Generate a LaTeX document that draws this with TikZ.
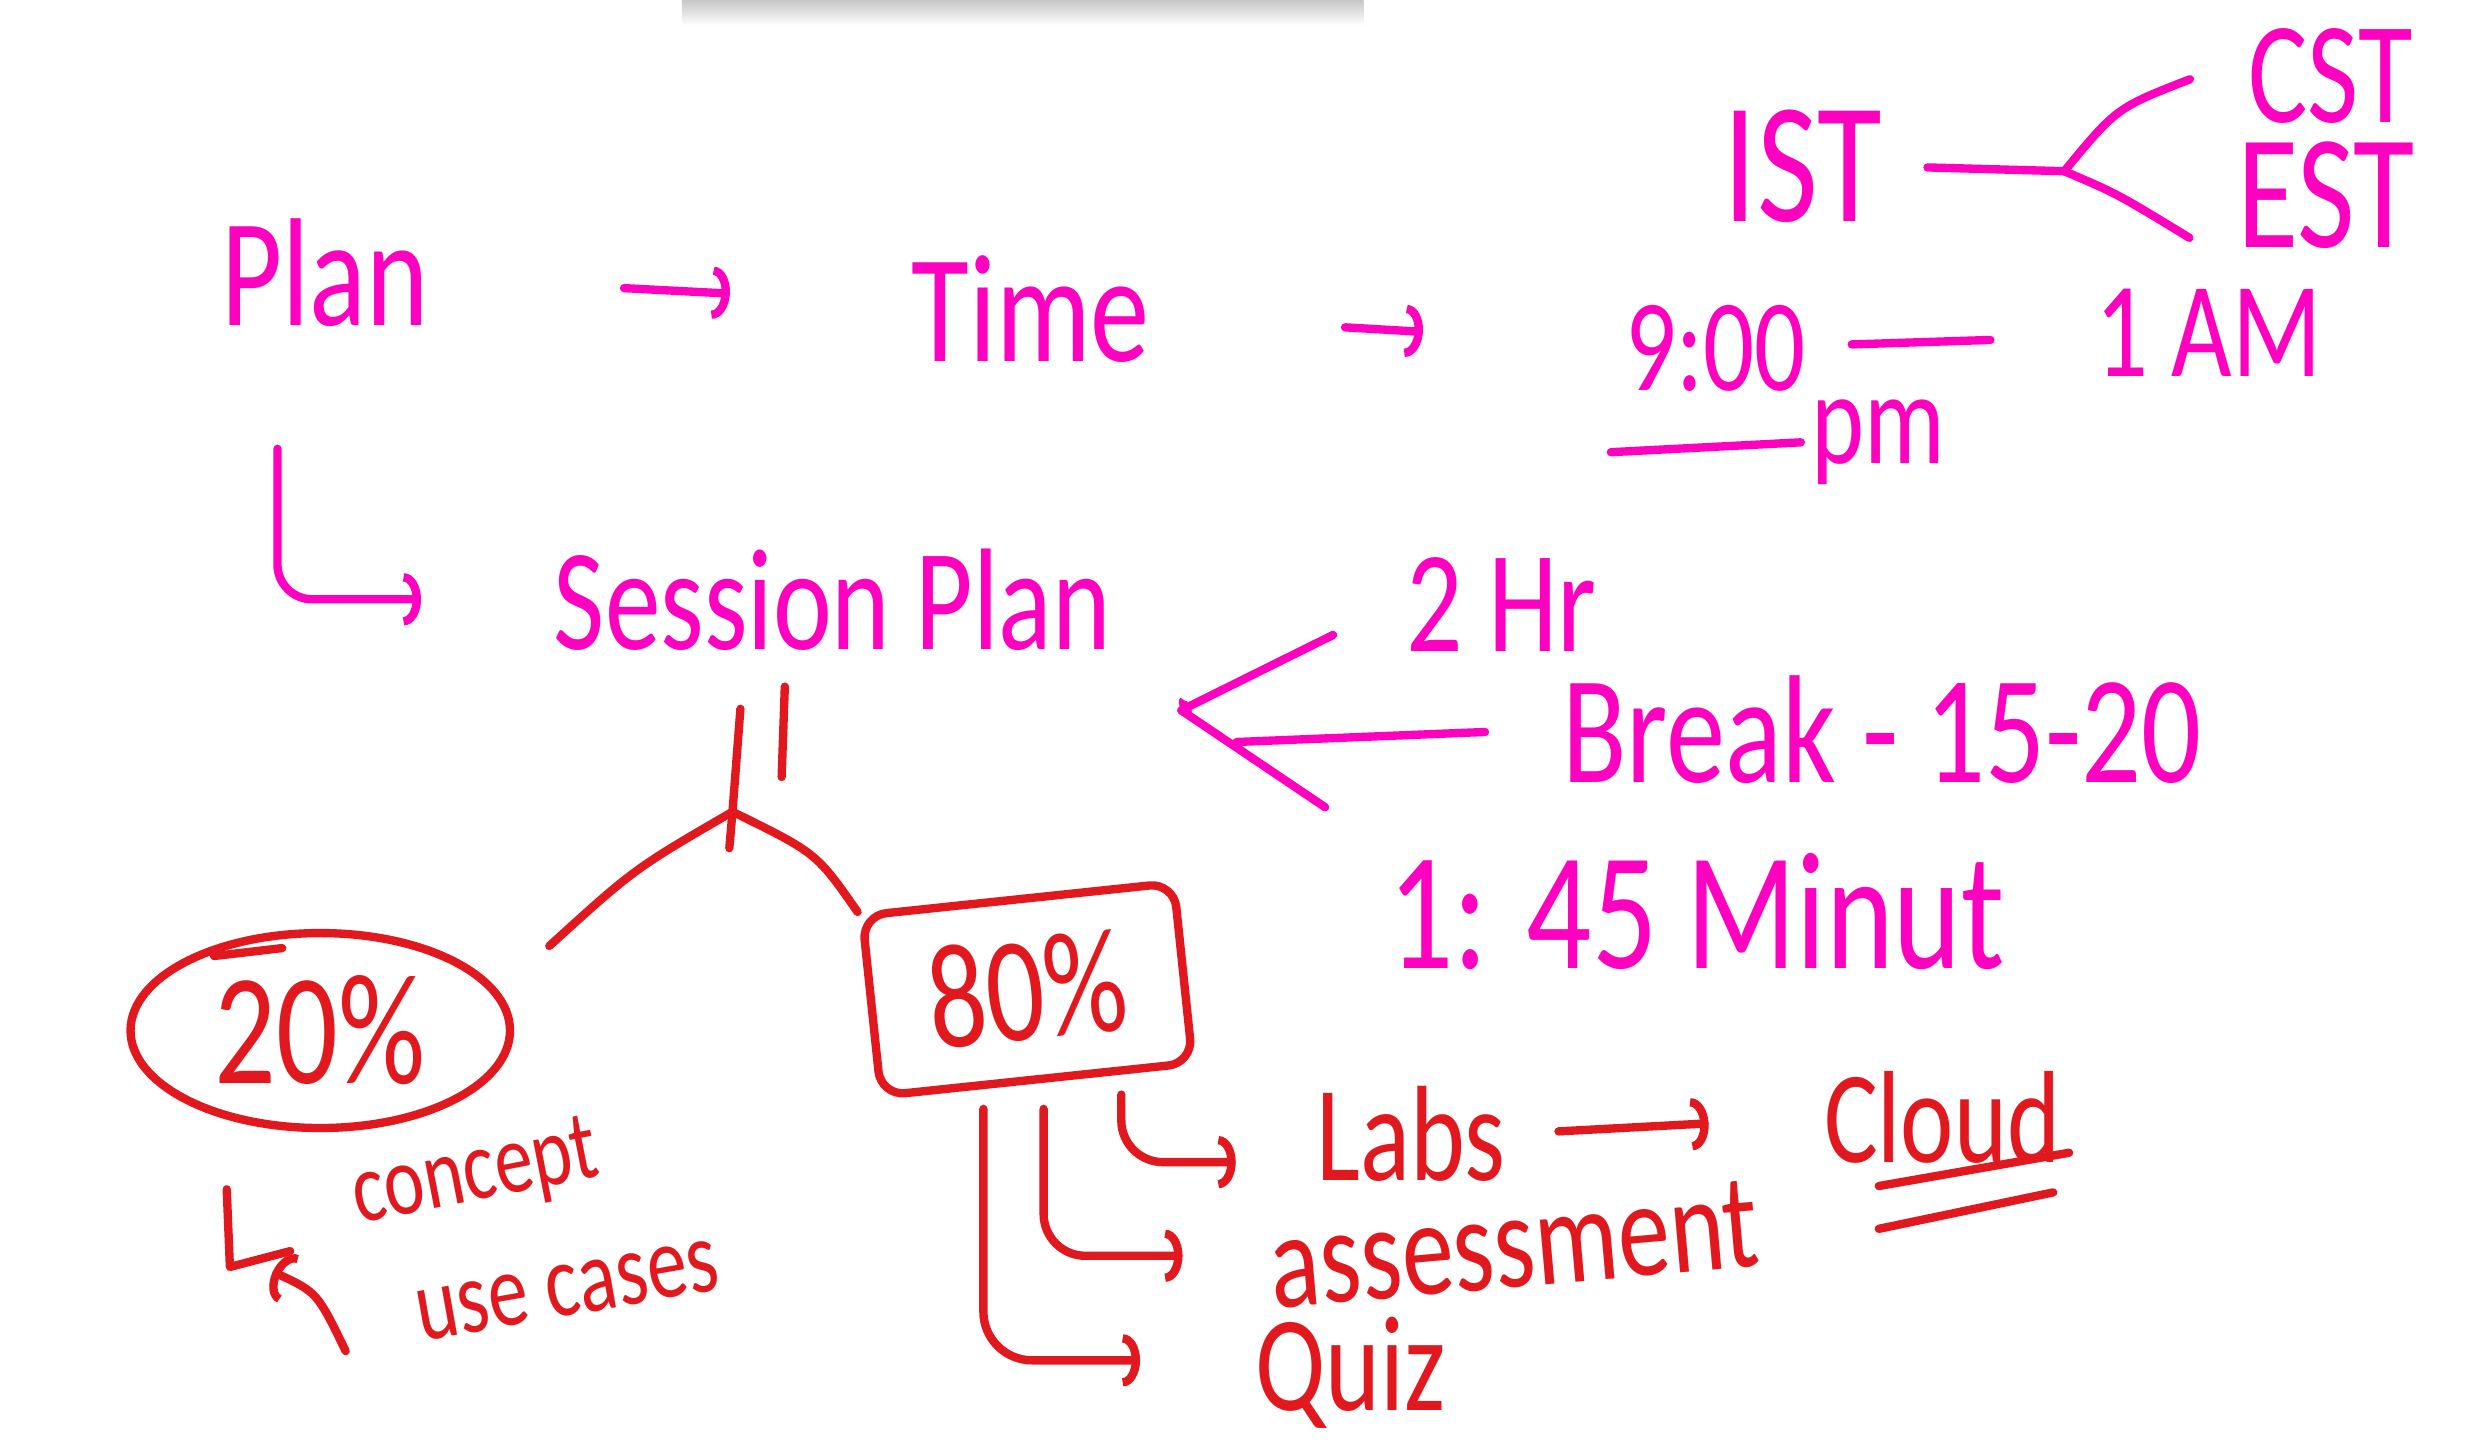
\documentclass[tikz,border=0pt]{standalone}
\usepackage{fontspec}
\setmainfont{Carlito}
\usepackage{graphicx}
\usetikzlibrary{arrows.meta,shapes.geometric}
\newcommand{\hw}[1]{\scalebox{1}[1.3]{#1}}

\begin{document}
\begin{tikzpicture}[x=0.016cm, y=-0.016cm,
    pen/.style={line width=2.4pt, line cap=round, line join=round},
    arr/.style={pen, -{Arc Barb[length=5pt, width=15pt]}},
    mtxt/.style={text=inkM, inner sep=3pt, font={\fontsize{#1}{#1}\selectfont}},
    rtxt/.style={text=inkR, inner sep=3pt, font={\fontsize{#1}{#1}\selectfont}}]
    \definecolor{inkM}{RGB}{255,0,192}
    \definecolor{inkR}{RGB}{225,25,30}

    \useasboundingbox (0,0) rectangle (1568,917);
    % shadow of the toolbar
    \shade[top color=black!22, bottom color=white] (430,0) rectangle (860,16);

    % magenta part: plan and time
    \node[mtxt=34] (plan)    at (205,172)  {\hw{Plan}};
    \node[mtxt=34] (time)    at (650,195)  {\hw{Time}};
    \node[mtxt=38] (ist)     at (1137,105) {\hw{IST}};
    \node[mtxt=32] (cst)     at (1470,48)  {\hw{CST}};
    \node[mtxt=36] (est)     at (1467,123) {\hw{EST}};
    \node[mtxt=29] (nine)    at (1082,220) {\hw{9:00}};
    \node[mtxt=30] (oneam)   at (1393,210) {\hw{1 AM}};
    \node[mtxt=29] (pm)      at (1185,279) {\hw{pm}};
    \node[mtxt=32] (session) at (525,378)  {\hw{Session Plan}};
    \node[mtxt=32] (hr2)     at (947,381)  {\hw{2 Hr}};
    \node[mtxt=34] (brk)     at (1187,460) {\hw{Break - 15-20}};
    \node[mtxt=37] (mins)    at (1070,575) {\hw{1: 45 Minut}};

    \draw[arr, inkM, shorten <=53pt, shorten >=49pt] (plan) -- (time);
    \draw[arr, inkM, shorten <=53pt, shorten >=55pt] (time) -- (nine);
    \draw[arr, inkM, rounded corners=10pt, shorten >=35pt] ([shift={(-30,70)}]plan.south) |- (session.west);

    \coordinate (fork) at (1302,108);
    \draw[pen, inkM, shorten <=10pt] (ist.east) -- (fork);
    \draw[pen, inkM] (fork) .. controls (1335,68) .. ([shift={(-30,2)}]cst.west);
    \draw[pen, inkM] (fork) .. controls (1335,122) .. ([shift={(-23,27)}]est.west);
    \draw[pen, inkM, shorten <=10pt, shorten >=27pt] (nine) -- (oneam);
    \draw[pen, inkM] ([shift={(-2,31)}]nine.south west) -- (pm.west);

    \coordinate (apex) at (745,448);
    \coordinate (midEnd) at (780,468);
    \draw[pen, inkM, shorten <=20pt, -{Arc Barb[length=2pt, width=7pt]}] (hr2.west) -- (apex);
    \draw[pen, inkM, shorten <=19pt] (brk.west) -- (midEnd);
    \draw[pen, inkM, shorten >=18pt] (apex) -- (mins.north west);

    % red part: split of the session
    \node[pen, draw=inkR, ellipse, minimum width=109pt, minimum height=56pt,
          rtxt=35, inner sep=0pt] (pct20) at (202,650) {\hw{20\%}};
    \node[pen, draw=inkR, rounded corners=7pt, minimum width=90pt, minimum height=52pt,
          rotate=6, rtxt=33] (pct80) at (648,624) {\hw{80\%}};
    \node[rtxt=22, rotate=11, inner sep=1pt] (concept)  at (300,742) {\hw{concept}};
    \node[rtxt=23, rotate=10, inner sep=1pt] (usecases) at (358,814) {\hw{use cases}};
    \node[rtxt=30] (labs)   at (890,715)  {\hw{Labs}};
    \node[rtxt=30, rotate=5] (assess) at (955,785) {\hw{assessment}};
    \node[rtxt=30] (quiz)   at (852,866)  {\hw{Quiz}};
    \node[rtxt=29] (cloud)  at (1225,705) {\hw{Cloud}};

    \coordinate (split) at (462,512);
    \draw[pen, inkR] ([shift={(-58,30)}]session.south) -- (split) -- ++(-2,23);
    \draw[pen, inkR] ([shift={(-30,16)}]session.south) -- ++(-2,57);
    \draw[pen, inkR] (split) .. controls (400,548) .. ([shift={(58,-8)}]pct20.north east);
    \draw[pen, inkR] (split) .. controls (515,538) .. (pct80.north west);

    % under the 20%
    \draw[pen, inkR] ([shift={(-67,-47)}]pct20.center) -- ++(43,-5);
    \draw[pen, inkR] ([shift={(-59,36)}]pct20.south) -- ++(2,49) -- ++(38,-10);
    \draw[arr, inkR] ([shift={(16,138)}]pct20.south) .. controls (200,815) .. ([shift={(-30,88)}]pct20.south);

    % under the 80%
    \draw[arr, inkR, rounded corners=12pt, shorten >=20pt] ([shift={(53,7)}]pct80.south) |- ([shift={(0,18)}]labs.west);
    \draw[arr, inkR, rounded corners=12pt, shorten >=22pt] ([shift={(4,16)}]pct80.south) |- ([shift={(0,-7)}]assess.west);
    \draw[arr, inkR, rounded corners=14pt, shorten >=30pt] ([shift={(-34,16)}]pct80.south) |- ([shift={(0,-8)}]quiz.west);
    \draw[arr, inkR, shorten <=12pt, shorten >=30pt] (labs.east) -- (cloud.west);
    \draw[pen, inkR] ([shift={(-40,7)}]cloud.south) -- ([shift={(80,-14)}]cloud.south);
    \draw[pen, inkR] ([shift={(-40,34)}]cloud.south) -- ([shift={(70,11)}]cloud.south);
\end{tikzpicture}
\end{document}
